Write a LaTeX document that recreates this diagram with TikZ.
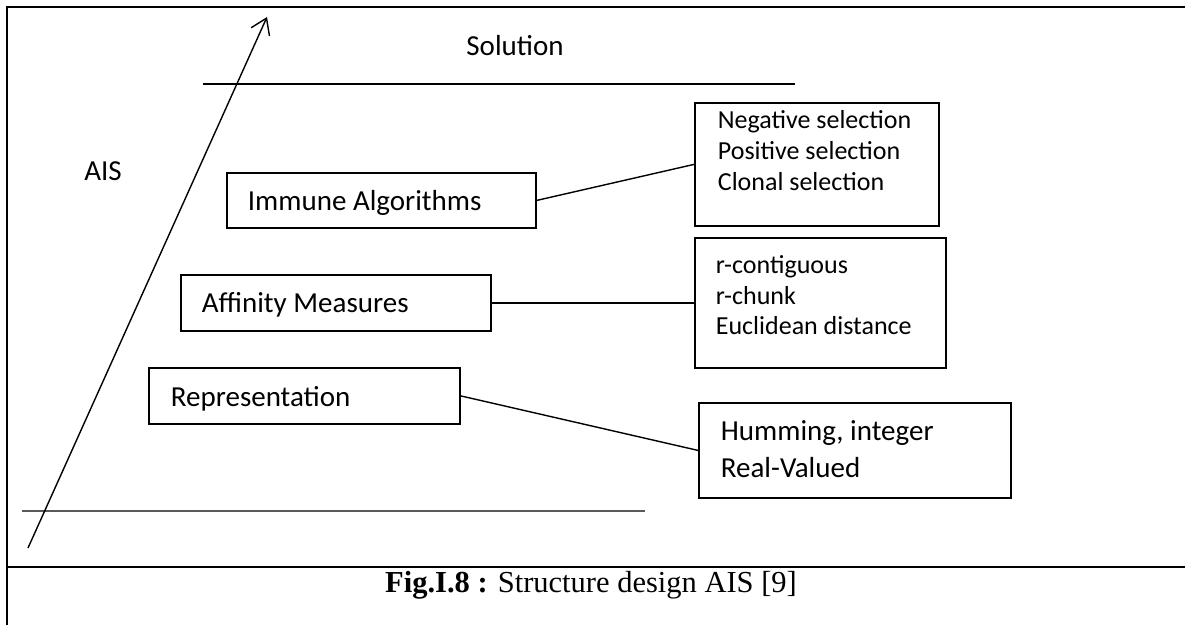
\documentclass[tikz,border=0pt]{standalone}
\usepackage{fontspec}
\setmainfont{Carlito}
\newfontfamily\capfont{Liberation Serif}
\usetikzlibrary{arrows.meta}

% #1 width, #2 height, #3 left pad, #4 first baseline, #5 line skip, #6 lines
\newcommand\boxtext[6]{\parbox[t][#2][t]{#1}{\leftskip=#3\relax\baselineskip=#5\relax\rule{0pt}{#4}#6}}

\definecolor{baseline}{gray}{0.35}

\tikzset{
  frame/.style={line width=2.7pt},
  itembox/.style={draw, line width=1.8pt, inner sep=0pt, anchor=north west},
  bigfont/.style={font=\fontsize{29}{35}\selectfont},
  smallfont/.style={font=\fontsize{26}{31}\selectfont},
  wire/.style={line width=1.4pt},
  groundline/.style={line width=2pt, draw=baseline},
  axis/.style={line width=1.4pt, -{Straight Barb[length=15pt,width=20pt,line width=1.4pt]}},
}

\begin{document}
\begin{tikzpicture}[x=1pt,y=-1pt]
\useasboundingbox (0,0) rectangle (1185,624);

% outer frame and caption separator
\coordinate (fTR) at (1190,7);
\coordinate (fTL) at (7,7);
\coordinate (fBL) at (7,630);
\coordinate (sepL) at (7,567);
\coordinate (sepR) at (1190,567);
\draw[frame] (fTR) -- (fTL) -- (fBL);
\draw[frame] (sepL) -- (sepR);

% level lines and the rising axis
\coordinate (topL) at (203,84);
\coordinate (topR) at (795,84);
\coordinate (botL) at (22,511);
\coordinate (botR) at (645,511);
\draw[wire] (topL) -- (topR);
\draw[groundline] (botL) -- (botR);
\coordinate (axbot) at (28,548);
\coordinate (axtop) at (267,17);
\draw[axis] (axbot) -- (axtop);

\node[bigfont, anchor=base] (sol) at (515,55) {Solution};
\node[bigfont, anchor=base] (ais) at (103,180) {AIS};

% level boxes
\node[itembox, bigfont] (imm) at (226,172)
  {\boxtext{309pt}{55pt}{21pt}{38pt}{35pt}{Immune Algorithms}};
\node[itembox, bigfont] (aff) at (180,274)
  {\boxtext{310pt}{56pt}{21pt}{38pt}{35pt}{Affinity Measures}};
\node[itembox, bigfont] (rep) at (148,367)
  {\boxtext{311pt}{56pt}{22pt}{39pt}{35pt}{Representation}};

% detail boxes
\node[itembox, smallfont] (sel) at (694,102)
  {\boxtext{244pt}{123pt}{23pt}{26pt}{31pt}{Negative selection\\Positive selection\\Clonal selection}};
\node[itembox, smallfont] (rcon) at (694,237)
  {\boxtext{251pt}{130pt}{21pt}{36pt}{30.5pt}{r-contiguous\\r-chunk\\Euclidean distance}};
\node[itembox, bigfont] (hum) at (698,402)
  {\boxtext{312pt}{95pt}{22pt}{38pt}{37pt}{Humming, integer\\Real-Valued}};

% connectors
\draw[wire] (imm.east) -- (sel.west);
\draw[wire] (aff.east) -- (rcon.west);
\draw[wire] (rep.east) -- (hum.west);

% caption
\node[anchor=base, font=\capfont\fontsize{30.5}{36}\selectfont] (cap) at (591,592)
  {{\bfseries Fig.I.8 :} Structure design AIS [9]};
\end{tikzpicture}
\end{document}
